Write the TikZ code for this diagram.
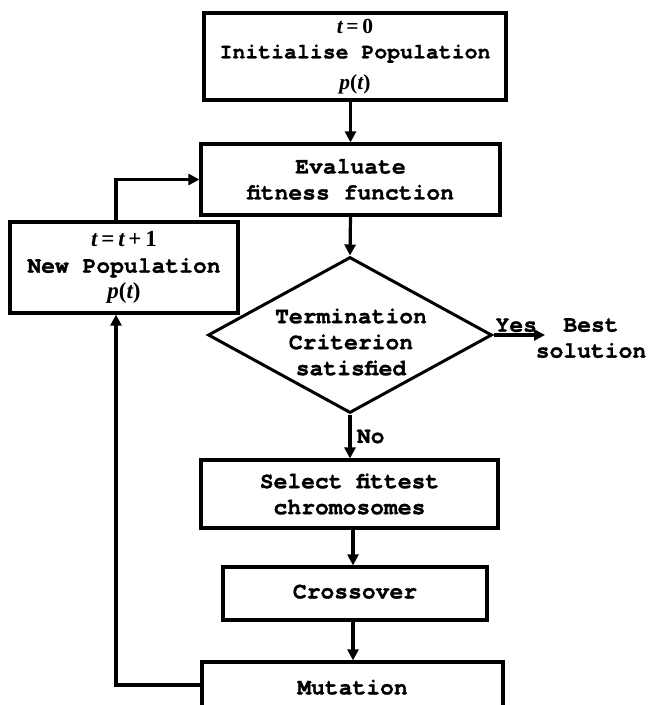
\documentclass[tikz,border=0pt]{standalone}
\usepackage{fontspec}
\setmainfont{TeX Gyre Cursor}[BoldFeatures={FakeBold=1.2}]
\newfontfamily\tms{Liberation Serif}
\usetikzlibrary{shapes.geometric,arrows.meta}
\newcommand\mv[1]{{\tms\itshape #1}}
\newcommand\mr[1]{{\tms #1}}
\begin{document}
\begin{tikzpicture}[x=1pt,y=-1pt,
  every node/.style={font=\fontsize{23}{26}\selectfont\bfseries, align=center},
  box/.style={draw, line width=3.2pt, inner sep=0pt},
  arr/.style={line width=3.2pt, -{Triangle[length=11pt,width=11pt]}},
  ln/.style={line width=3.2pt}]
\useasboundingbox (0,0) rectangle (651,705);
\clip (0,0) rectangle (651,705);
\node[box, minimum width=302pt, minimum height=87pt, font=\fontsize{21.5}{28}\selectfont\bfseries] (init) at (355,56.5)
  {\raisebox{0pt}{\mv{t}\mr{\,=\,0}}\\[-3pt]Initialise Population\\[3pt]\mv{p}\mr{(}\mv{t}\mr{)}};
\node[box, minimum width=299pt, minimum height=71pt] (eval) at (350.5,179.5)
  {Evaluate\\fitness function};
\node[box, minimum width=228pt, minimum height=91pt] (newpop) at (124,267.5)
  {\mv{t}\mr{\,=\,}\mv{t}\mr{\,+\,1}\\New Population\\\mv{p}\mr{(}\mv{t}\mr{)}};
\node[diamond, draw, line width=3pt, minimum width=284pt, minimum height=156pt, inner sep=0pt] (dec) at (350,335) {};
\node (dectext) at (351,342) {Termination\\Criterion\\satisfied};
\node (best) at (591,338) {Best\\solution};
\coordinate (yesend) at (545,335);
\node[box, minimum width=297pt, minimum height=68pt] (select) at (349.5,494)
  {Select fittest\\chromosomes};
\node[box, minimum width=264pt, minimum height=53pt] (cross) at (355,593.5)
  {\raisebox{4pt}{Crossover}};
\node[box, minimum width=301pt, minimum height=60pt] (mut) at (352.5,692)
  {\raisebox{10pt}{Mutation}};
\coordinate (c1) at (116,685);
\coordinate (cx) at (353,0);
% connectors
\draw[arr] (init.south -| eval.north) -- (eval.north);
\draw[arr] (eval.south) -- (dec.north);
\draw[arr] (dec.east) -- node[above=-2pt, xshift=-3pt] (yes) {Yes} (yesend);
\draw[arr] (dec.south) -- node[right=2pt] (no) {No} (select.north -| dec.south);
\draw[arr] (select.south -| cx) -- (cross.north -| cx);
\draw[arr] (cross.south -| cx) -- (mut.north -| cx);
\draw[arr] (c1 -| mut.west) -- (c1) -- (c1 |- newpop.south);
\draw[arr] (c1 |- newpop.north) |- (eval.west);
\end{tikzpicture}
\end{document}
